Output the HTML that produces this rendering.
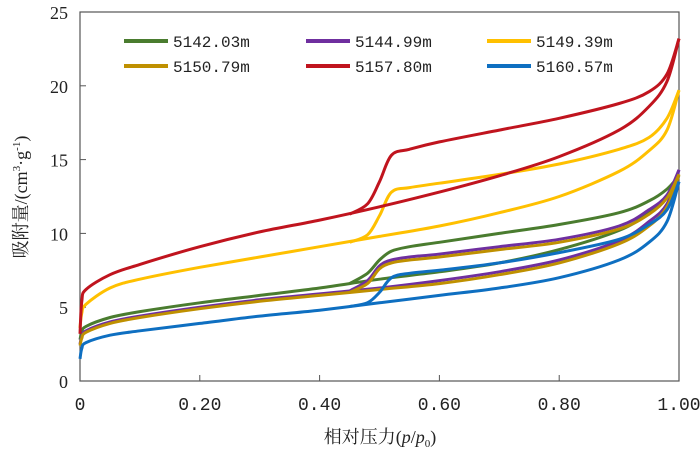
<!DOCTYPE html>
<html><head><meta charset="utf-8">
<style>
body{margin:0;background:#fff;}
svg{display:block;font-family:"Liberation Serif","Noto Serif CJK SC",serif;}
.mono{font-family:"Liberation Mono","Noto Serif CJK SC",monospace;}
</style></head>
<body>
<svg id="chart" width="700" height="457"></svg>
<script>
const names=["5142.03m","5144.99m","5149.39m","5150.79m","5157.80m","5160.57m"];
const colors=["#4a7c2f","#6f2f9f","#ffc000","#bf9000","#c0141e","#0e6fc1"];
const adsP=[0,0.003,0.01,0.05,0.1,0.2,0.3,0.4,0.5,0.6,0.7,0.8,0.9,0.95,0.98,1.0];
const adsGreen=[2.8,3.3,3.7,4.3,4.7,5.3,5.8,6.3,6.9,7.4,8.0,8.9,10.2,11.4,12.5,13.9];
const adsPurple=[2.5,3.0,3.4,4.0,4.4,5.0,5.5,5.9,6.3,6.8,7.4,8.2,9.5,10.8,12.0,14.3];
const adsYellow=[3.6,4.6,5.2,6.3,6.9,7.7,8.4,9.1,9.8,10.5,11.4,12.5,14.2,15.6,17.0,19.7];
const adsGold=[2.4,2.9,3.3,3.9,4.3,4.9,5.4,5.8,6.2,6.6,7.2,8.0,9.3,10.5,11.8,14.0];
const adsRed=[3.2,5.4,6.2,7.2,7.9,9.1,10.1,10.9,11.8,12.8,13.9,15.2,17.0,18.6,20.3,23.2];
const adsBlue=[1.5,2.2,2.6,3.1,3.4,3.9,4.4,4.8,5.3,5.8,6.3,7.0,8.2,9.4,10.8,13.5];
const desP=[0.45,0.48,0.5,0.52,0.55,0.6,0.7,0.8,0.9,0.95,0.98,1.0];
const desGreen=[6.6,7.3,8.2,8.8,9.1,9.4,10.0,10.6,11.4,12.2,13.0,13.9];
const desPurple=[6.1,6.8,7.8,8.2,8.4,8.6,9.1,9.6,10.5,11.6,12.6,14.3];
const desYellow=[9.4,9.9,11.2,12.8,13.1,13.4,14.0,14.7,15.7,16.5,17.8,19.7];
const desGold=[6.0,6.6,7.6,8.0,8.2,8.4,8.9,9.4,10.3,11.3,12.4,14.0];
const desRed=[11.3,12.0,13.5,15.3,15.7,16.2,17.0,17.8,18.8,19.6,20.8,23.2];
const desBlue=[5.05,5.3,6.0,7.0,7.3,7.5,8.0,8.7,9.6,10.6,11.6,13.5];
const adsAll=[adsGreen,adsPurple,adsYellow,adsGold,adsRed,adsBlue];
const desAll=[desGreen,desPurple,desYellow,desGold,desRed,desBlue];
const xTicks=[0,0.2,0.4,0.6,0.8,1.0];
const xTickLabels=["0","0.20","0.40","0.60","0.80","1.00"];
const yTicks=[0,5,10,15,20,25];

const NS="http://www.w3.org/2000/svg";
const svg=document.getElementById('chart');
const L=80,R=679,T=12,B=381;
const xs=v=>L+v*(R-L);
const ys=v=>B-v/25*(B-T);
function mk(tag,attrs,parent){const e=document.createElementNS(NS,tag);for(const k in attrs)e.setAttribute(k,attrs[k]);(parent||svg).appendChild(e);return e;}
function path(px,py){
  const pts=px.map((p,i)=>[xs(p),ys(py[i])]);
  let d="M"+pts[0][0].toFixed(1)+","+pts[0][1].toFixed(1);
  for(let i=0;i<pts.length-1;i++){
    const p0=pts[Math.max(0,i-1)],p1=pts[i],p2=pts[i+1],p3=pts[Math.min(pts.length-1,i+2)];
    const c1=[p1[0]+(p2[0]-p0[0])/6,p1[1]+(p2[1]-p0[1])/6];
    const c2=[p2[0]-(p3[0]-p1[0])/6,p2[1]-(p3[1]-p1[1])/6];
    d+=" C"+c1[0].toFixed(1)+","+c1[1].toFixed(1)+" "+c2[0].toFixed(1)+","+c2[1].toFixed(1)+" "+p2[0].toFixed(1)+","+p2[1].toFixed(1);
  }
  return d;
}
const frame=mk('rect',{x:L,y:T,width:R-L,height:B-T,fill:'none',stroke:'#555','stroke-width':1.2});


xTicks.forEach((t,i)=>{
  const ln=mk('line',{x1:xs(t),x2:xs(t),y1:B,y2:B-6,stroke:'#555'});
  
  
  const tx=mk('text',{x:xs(t),y:B+29,'font-size':18,'text-anchor':'middle',fill:'#222',class:'mono'});
  tx.textContent=xTickLabels[i];
  
  
});
yTicks.forEach(t=>{
  const ln=mk('line',{x1:L,x2:L+6,y1:ys(t),y2:ys(t),stroke:'#555'});
  
  
  const tx=mk('text',{x:L-12,y:ys(t)+7,'font-size':18,'text-anchor':'end',fill:'#222'});
  tx.textContent=String(t);
  
  
});
const xt=mk('text',{x:380,y:443,'font-size':18,'text-anchor':'middle',fill:'#222'});
xt.innerHTML='相对压力(<tspan font-style="italic">p</tspan>/<tspan font-style="italic">p</tspan><tspan font-size="11" dy="4">0</tspan><tspan dy="-4">)</tspan>';


const yt=mk('text',{x:0,y:0,'font-size':18,'text-anchor':'middle',fill:'#222',transform:'translate(27,197) rotate(-90)'});
yt.innerHTML='吸附量/(cm<tspan font-size="11" dy="-7">3</tspan><tspan dy="7">·g</tspan><tspan font-size="11" dy="-7">-1</tspan><tspan dy="7">)</tspan>';


for(let s=0;s<6;s++){
  const a=mk('path',{d:path(adsP,adsAll[s]),fill:'none',stroke:colors[s],'stroke-width':3});
  
  
  const d=mk('path',{d:path(desP,desAll[s]),fill:'none',stroke:colors[s],'stroke-width':3});
  
  
}
const lx=[124,306,487],ly=[41,66];
names.forEach((n,i)=>{
  const g=mk('g',{});
  
  
  const x=lx[i%3],y=ly[Math.floor(i/3)];
  mk('line',{x1:x,x2:x+44,y1:y,y2:y,stroke:colors[i],'stroke-width':4},g);
  const t=mk('text',{x:x+49,y:y+6,'font-size':16,fill:'#222',class:'mono'},g);
  t.textContent=n;
});
</script>
</body></html>
